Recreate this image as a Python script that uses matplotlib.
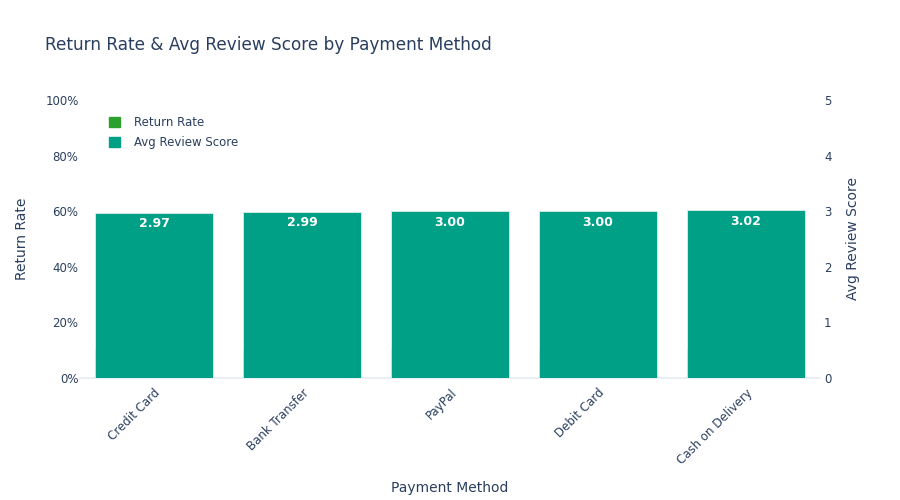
import matplotlib
matplotlib.use("Agg")
import matplotlib.pyplot as plt
from matplotlib.patches import Patch
from matplotlib.ticker import FuncFormatter

plt.rcParams["font.family"] = ["DejaVu Sans"]

methods = ["Credit Card", "Bank Transfer", "PayPal", "Debit Card", "Cash on Delivery"]
return_rate = [0.10, 0.10, 0.10, 0.10, 0.10]  # hidden behind the review bars
avg_review = [2.97, 2.99, 3.00, 3.00, 3.02]

text_col = "#2a3f5f"
green = "#2ca02c"
teal = "#00a087"

fig = plt.figure(figsize=(9, 5), dpi=100)
ax = fig.add_axes([80 / 900, 1 - 378 / 500, 740 / 900, 278 / 500])
ax2 = ax.twinx()

x = list(range(len(methods)))
ax.bar(x, return_rate, width=0.8, color=green, zorder=1)
bars = ax2.bar(x, avg_review, width=0.8, color=teal, edgecolor="#d8efe9", linewidth=0.6, zorder=2)

for b, v in zip(bars, avg_review):
    ax2.text(b.get_x() + b.get_width() / 2, v - 0.08, f"{v:.2f}", ha="center", va="top",
             color="white", fontsize=9, fontweight="bold")

ax.set_xlim(-0.5, len(methods) - 0.5)
ax.set_ylim(0, 1)
ax2.set_ylim(0, 5)
ax.set_yticks([0, 0.2, 0.4, 0.6, 0.8, 1.0])
ax.yaxis.set_major_formatter(FuncFormatter(lambda v, p: f"{v * 100:.0f}%"))
ax2.set_yticks([0, 1, 2, 3, 4, 5])

ax.set_xticks(x)
ax.set_xticklabels(methods, rotation=45, ha="right", rotation_mode="anchor")

for a in (ax, ax2):
    for s in a.spines.values():
        s.set_visible(False)
    a.tick_params(length=0, colors=text_col, labelsize=8.5)
ax.spines["bottom"].set_visible(True)
ax.spines["bottom"].set_color("#e5ecf6")
ax.spines["bottom"].set_linewidth(1.2)
ax.tick_params(axis="x", pad=6)
ax.tick_params(axis="y", pad=1)
ax2.tick_params(axis="y", pad=3)

ax.set_ylabel("Return Rate", color=text_col, fontsize=10, labelpad=12)
ax2.set_ylabel("Avg Review Score", color=text_col, fontsize=10, labelpad=10)
ax.set_xlabel("Payment Method", color=text_col, fontsize=10, labelpad=10)

fig.text(45 / 900, 1 - 45 / 500, "Return Rate & Avg Review Score by Payment Method",
         color=text_col, fontsize=12.2, va="center")

handles = [Patch(color=green, label="Return Rate"), Patch(color=teal, label="Avg Review Score")]
leg = ax2.legend(handles=handles, loc="upper left", bbox_to_anchor=(0.025, 0.98), frameon=False,
                 fontsize=8.5, handlelength=0.9, handleheight=0.9, labelspacing=0.55, handletextpad=1.2)
for t in leg.get_texts():
    t.set_color(text_col)

fig.savefig("out.png", dpi=100, facecolor="white")
